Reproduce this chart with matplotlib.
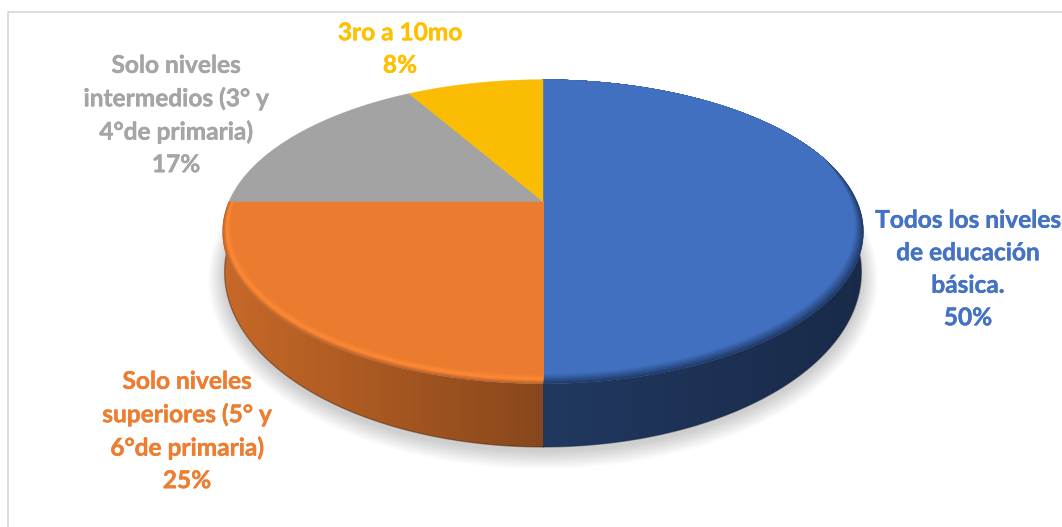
import numpy as np
import matplotlib
matplotlib.use('Agg')
import matplotlib.pyplot as plt
import matplotlib.patheffects as pe
from matplotlib.colors import to_rgb
from matplotlib.patches import Polygon

# datos (porcentajes)
categorias = ['Todos los niveles\nde educación\nbásica.',
              'Solo niveles\nsuperiores (5° y\n6°de primaria)',
              'Solo niveles\nintermedios (3° y\n4°de primaria)',
              '3ro a 10mo']
valores = [50, 25, 16.67, 8.33]
etiquetas_pct = ['50%', '25%', '17%', '8%']
colores = ['#4472C4', '#ED7D31', '#A5A5A5', '#FFC000']
color_cara = ['#4270C0', '#EA7B2F', '#A3A3A3', '#FBBC04']

plt.rcParams['font.family'] = ['Lato', 'DejaVu Sans']

fig = plt.figure(figsize=(10.62, 5.27), dpi=100)
ax = fig.add_axes([0, 0, 1, 1])
ax.set_xlim(0, 1062)
ax.set_ylim(527, 0)
ax.axis('off')

# marco del grafico
ax.plot([8, 8, 1075], [540, 12, 12], color='#D9D9D9', lw=1.3)

# perspectiva del circulo
CX = 543
K = 0.1987
TOP = dict(apex=201.5, a=314, b=146)
BOT = dict(apex=237.3, a=312, b=168)


def proyectar(theta, r, apex, a, b):
    u = r * np.sin(theta)
    v = r * np.cos(theta)
    d = 1 + K * v
    return CX + a * u / d, apex - b * v / d


def mezcla(c1, c2, t):
    return tuple((1 - t) * np.array(to_rgb(c1)) + t * np.array(to_rgb(c2)))


# sombra difusa debajo del pastel
tt = np.linspace(0, 2 * np.pi, 300)
for extra in np.linspace(16, 1, 12):
    xs, ys = proyectar(tt, 1, BOT['apex'] + 4, BOT['a'] + extra, BOT['b'] + extra * 0.9)
    ax.add_patch(Polygon(np.c_[xs, ys], closed=True, fc='black', ec='none', alpha=0.016, zorder=1))

angulos = np.r_[0, np.cumsum(valores)] / np.sum(valores) * 2 * np.pi
grad_lateral = {0: (0.50, 0.38), 1: (0.85, 0.58)}
borde_ext = {0: '#1E3A68', 1: '#B9622A'}
borde_med = {0: '#2F5391', 1: '#FF8A36'}

for i, color in enumerate(color_cara):
    t0, t1 = angulos[i], angulos[i + 1]

    # lado del cilindro, solo la parte frontal
    f0, f1 = max(t0, np.pi / 2), min(t1, 3 * np.pi / 2)
    frente = f1 > f0
    if frente:
        th = np.linspace(f0, f1, 200)
        x_a, y_a = proyectar(th, 1, **TOP)
        x_b, y_b = proyectar(th, 1, **BOT)
        poly = Polygon(np.r_[np.c_[x_a, y_a], np.c_[x_b, y_b][::-1]], closed=True, fc='none', ec='none')
        ax.add_patch(poly)
        s0, s1 = grad_lateral[i]
        x_min, x_max = min(x_a.min(), x_b.min()), max(x_a.max(), x_b.max())
        rampa = np.linspace(s0, s1, 128).reshape(1, -1, 1) * np.array(to_rgb(color)).reshape(1, 1, 3)
        img = ax.imshow(rampa, extent=[x_min, x_max, 460, 190], aspect='auto', zorder=2, interpolation='bilinear')
        img.set_clip_path(poly)
        ax.plot(x_b, y_b, color=mezcla(color, 'black', 0.72), lw=1.0, alpha=0.45, zorder=2.5)

    # cara superior con bisel en la parte de adelante
    th = np.linspace(t0, t1, 300)
    v = np.cos(th)
    ancho = 0.044 * np.sqrt(np.clip((0.3 - v) / 1.3, 0, 1))
    niveles = np.linspace(0, 1, 17) if frente else [1.0]
    for f in niveles:
        if frente:
            if f < 0.45:
                c = mezcla(borde_ext[i], borde_med[i], f / 0.45)
            else:
                c = mezcla(borde_med[i], color, (f - 0.45) / 0.55)
            r = 1 - ancho * f
        else:
            c = color
            r = np.ones_like(th)
        xs, ys = proyectar(th, r, **TOP)
        pts = np.r_[[[CX, TOP['apex']]], np.c_[xs, ys]]
        ax.add_patch(Polygon(pts, closed=True, fc=c, ec=c, lw=0.3, zorder=3))

# etiquetas
pos_x = [968, 187, 176, 400]
pos_y = [269, 431, 115, 49]
for nombre, pct, c, x, y in zip(categorias, etiquetas_pct, colores, pos_x, pos_y):
    ax.text(x, y, nombre + '\n' + pct, color=c, fontsize=17.6, fontweight='bold',
            ha='center', va='center', linespacing=1.5, zorder=5,
            path_effects=[pe.withStroke(linewidth=0.3, foreground=c)])

fig.savefig('out.png', dpi=100)
